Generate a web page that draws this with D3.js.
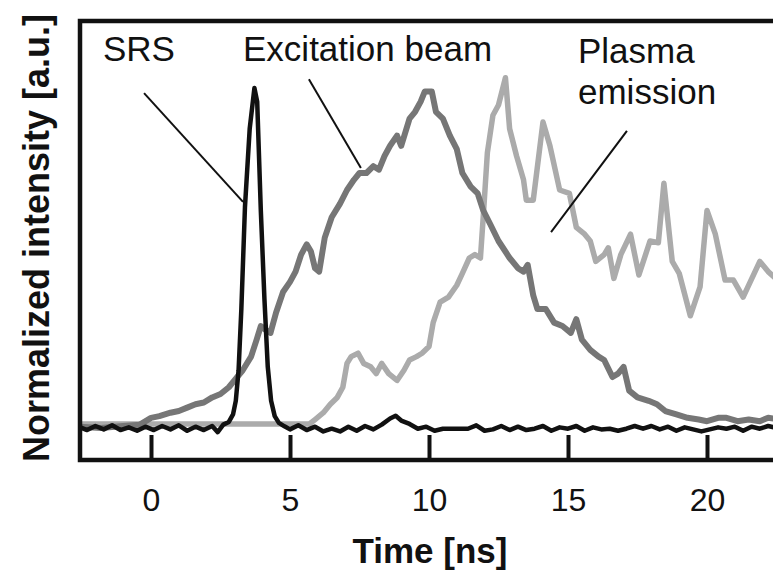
<!DOCTYPE html>
<html>
<head>
<meta charset="utf-8">
<script src="https://cdn.jsdelivr.net/npm/d3@7"></script>
<style>
  body { margin: 0; background: #fff; }
  text { font-family: "Liberation Sans", Arial, sans-serif; fill: #111; }
</style>
</head>
<body>
<div id="chart"></div>
<script>
// time axis ticks
var tickValues = [0, 5, 10, 15, 20];

// SRS pulse (black)
var srsTime = [-2.6, -2.3, -2.0, -1.7, -1.4, -1.1, -0.8, -0.5, -0.2, 0.1, 0.4, 0.7, 1.0, 1.3, 1.6, 1.9, 2.2, 2.4, 2.6, 2.8,
  2.95, 3.05, 3.15, 3.25, 3.38, 3.55, 3.72, 3.82, 3.95, 4.08, 4.2, 4.32, 4.45, 4.6, 4.8, 5.0, 5.3, 5.6, 5.9, 6.2,
  6.5, 6.8, 7.1, 7.4, 7.7, 8.0, 8.3, 8.6, 8.8, 9.0, 9.3, 9.6, 9.9, 10.2, 10.5, 10.8, 11.1, 11.4, 11.7, 12.0,
  12.3, 12.6, 12.9, 13.2, 13.5, 13.8, 14.1, 14.4, 14.7, 15.0, 15.3, 15.6, 15.9, 16.2, 16.5, 16.8, 17.1, 17.4, 17.7, 18.0,
  18.3, 18.6, 18.9, 19.2, 19.5, 19.8, 20.1, 20.4, 20.7, 21.0, 21.3, 21.6, 21.9, 22.2, 22.6];
var srsValue = [0.004, -0.006, 0.006, -0.004, 0.008, -0.006, 0.002, -0.008, 0.004, -0.006, 0.006, -0.004, 0.008, -0.008, 0.004, -0.006, 0.006, -0.012, 0.01, 0.018,
  0.04, 0.08, 0.17, 0.35, 0.65, 0.88, 1.0, 0.96, 0.64, 0.38, 0.18, 0.08, 0.035, 0.015, 0.005, -0.004, 0.008, -0.006, 0.004, -0.01,
  -0.002, -0.01, 0.004, -0.008, 0.006, -0.004, 0.01, 0.028, 0.036, 0.022, 0.012, -0.002, 0.004, -0.008, -0.002, -0.002, -0.002, -0.002, 0.008, -0.008,
  -0.004, 0.006, -0.006, 0.004, -0.006, -0.002, 0.006, -0.008, 0.002, -0.002, 0.006, -0.008, 0.002, -0.004, -0.002, -0.008, -0.002, 0.006, -0.002, 0.006,
  -0.004, 0.004, -0.008, 0.002, -0.004, -0.01, -0.004, 0.002, -0.002, 0.004, -0.008, 0.004, -0.002, 0.006, -0.002];

// excitation beam (dark grey)
var excTime = [-2.6, -1.8, -1.0, -0.4, 0.0, 0.3, 0.7, 1.0, 1.3, 1.6, 1.9, 2.2, 2.5, 2.8, 3.0, 3.3, 3.6, 3.8, 3.95, 4.1,
  4.3, 4.5, 4.75, 5.0, 5.2, 5.4, 5.6, 5.75, 5.9, 6.05, 6.25, 6.5, 6.8, 7.05, 7.3, 7.5, 7.75, 8.0, 8.2, 8.4,
  8.6, 8.85, 9.0, 9.3, 9.5, 9.7, 9.85, 10.1, 10.25, 10.5, 10.75, 11.0, 11.2, 11.5, 11.75, 11.95, 12.2, 12.5, 12.9, 13.2,
  13.4, 13.55, 13.75, 13.9, 14.2, 14.5, 14.8, 15.1, 15.3, 15.5, 15.8, 16.1, 16.3, 16.6, 16.8, 17.0, 17.2, 17.5, 17.9, 18.2,
  18.5, 18.9, 19.3, 19.7, 20.0, 20.4, 20.7, 21.1, 21.5, 21.9, 22.2, 22.6];
var excValue = [0.004, 0.0, 0.006, 0.01, 0.03, 0.035, 0.045, 0.05, 0.06, 0.07, 0.075, 0.09, 0.10, 0.12, 0.14, 0.17, 0.21, 0.26, 0.30, 0.29,
  0.28, 0.34, 0.40, 0.43, 0.46, 0.51, 0.54, 0.52, 0.47, 0.46, 0.56, 0.62, 0.66, 0.70, 0.73, 0.75, 0.75, 0.77, 0.76, 0.80,
  0.83, 0.86, 0.83, 0.91, 0.93, 0.96, 0.99, 0.99, 0.93, 0.91, 0.86, 0.82, 0.75, 0.71, 0.69, 0.64, 0.60, 0.55, 0.50, 0.47,
  0.46, 0.48, 0.39, 0.35, 0.35, 0.31, 0.30, 0.28, 0.32, 0.26, 0.23, 0.21, 0.20, 0.15, 0.16, 0.18, 0.11, 0.09, 0.08, 0.07,
  0.05, 0.04, 0.03, 0.025, 0.02, 0.03, 0.03, 0.02, 0.025, 0.02, 0.03, 0.025];

// plasma emission (light grey)
var plasmaTime = [-2.6, 5.7, 5.9, 6.2, 6.45, 6.7, 6.9, 7.05, 7.2, 7.45, 7.65, 7.9, 8.1, 8.3, 8.55, 8.85, 9.1, 9.3, 9.55, 9.75,
  10.0, 10.15, 10.4, 10.7, 11.0, 11.2, 11.45, 11.65, 11.85, 11.95, 12.1, 12.3, 12.5, 12.75, 12.9, 13.15, 13.4, 13.5, 13.75, 14.1,
  14.35, 14.7, 15.05, 15.3, 15.6, 15.8, 16.0, 16.3, 16.45, 16.65, 16.9, 17.25, 17.55, 17.95, 18.25, 18.45, 18.75, 19.0, 19.4, 19.75,
  20.0, 20.3, 20.65, 20.95, 21.3, 21.9, 22.2, 22.6];
var plasmaValue = [0.012, 0.012, 0.025, 0.045, 0.07, 0.09, 0.12, 0.19, 0.21, 0.22, 0.19, 0.18, 0.16, 0.19, 0.16, 0.14, 0.17, 0.20, 0.21, 0.22,
  0.24, 0.31, 0.37, 0.385, 0.42, 0.455, 0.50, 0.51, 0.50, 0.62, 0.81, 0.92, 0.95, 1.03, 0.88, 0.80, 0.73, 0.67, 0.67, 0.90,
  0.83, 0.70, 0.69, 0.59, 0.57, 0.55, 0.49, 0.51, 0.53, 0.44, 0.51, 0.57, 0.45, 0.55, 0.545, 0.72, 0.49, 0.455, 0.33, 0.415,
  0.64, 0.57, 0.435, 0.435, 0.385, 0.49, 0.46, 0.43];

var width = 773, height = 573;
var plot = { left: 80, top: 21, right: 780, bottom: 460 };

var svg = d3.select("#chart").append("svg")
    .attr("width", width)
    .attr("height", height);

var x = d3.scaleLinear().domain([-2.554, 22.626]).range([plot.left, plot.right]);
var y = d3.scaleLinear().domain([-0.094, 1.197]).range([plot.bottom, plot.top]);

svg.append("clipPath").attr("id", "clip")
  .append("rect")
    .attr("x", plot.left).attr("y", plot.top)
    .attr("width", plot.right - plot.left).attr("height", plot.bottom - plot.top);

function zipSeries(t, v) {
    return t.map(function (d, i) { return [d, v[i]]; });
}

var line = d3.line()
    .x(function (d) { return x(d[0]); })
    .y(function (d) { return y(d[1]); });

var series = [
    { data: zipSeries(plasmaTime, plasmaValue), color: "#ababab", width: 5.5 },
    { data: zipSeries(excTime, excValue), color: "#767676", width: 6 },
    { data: zipSeries(srsTime, srsValue), color: "#111", width: 4.5 }
];

var lines = svg.append("g").attr("clip-path", "url(#clip)");
series.forEach(function (s) {
    lines.append("path")
        .attr("d", line(s.data))
        .attr("fill", "none")
        .attr("stroke", s.color)
        .attr("stroke-width", s.width)
        .attr("stroke-linejoin", "round");
});

// bottom axis with inward ticks
var xAxis = svg.append("g")
    .attr("transform", "translate(0," + plot.bottom + ")")
    .call(d3.axisBottom(x).tickValues(tickValues).tickSizeInner(-25).tickSizeOuter(0).tickPadding(28));
xAxis.select(".domain").remove();
xAxis.selectAll(".tick line").attr("stroke", "#111").attr("stroke-width", 4);
xAxis.selectAll(".tick text")
    .style("font-family", "'Liberation Sans', Arial, sans-serif")
    .style("font-size", "32px")
    .attr("fill", "#111");

// frame (right side runs off the page)
svg.append("rect")
    .attr("x", plot.left).attr("y", plot.top)
    .attr("width", plot.right - plot.left + 20).attr("height", plot.bottom - plot.top)
    .attr("fill", "none")
    .attr("stroke", "#111")
    .attr("stroke-width", 4.5);

// axis titles
svg.append("text")
    .attr("x", 430).attr("y", 563)
    .attr("text-anchor", "middle")
    .style("font-size", "35px").style("font-weight", "bold")
    .text("Time [ns]");

svg.append("text")
    .attr("transform", "translate(49,238) rotate(-90)")
    .attr("text-anchor", "middle")
    .style("font-size", "36px").style("font-weight", "bold")
    .text("Normalized intensity [a.u.]");

// annotations, placed in data units
var notes = [
    { lines: ["SRS"], at: [-1.73, 1.079], from: [-0.25, 0.985], to: [3.31, 0.665] },
    { lines: ["Excitation beam"], at: [3.31, 1.079], from: [5.68, 1.026], to: [7.55, 0.765] },
    { lines: ["Plasma", "emission"], at: [15.36, 1.073], from: [17.12, 0.874], to: [14.39, 0.576] }
];

notes.forEach(function (n) {
    svg.append("line")
        .attr("x1", x(n.from[0])).attr("y1", y(n.from[1]))
        .attr("x2", x(n.to[0])).attr("y2", y(n.to[1]))
        .attr("stroke", "#111").attr("stroke-width", 2);
    var t = svg.append("text")
        .attr("x", x(n.at[0])).attr("y", y(n.at[1]))
        .style("font-size", "35px");
    n.lines.forEach(function (l, i) {
        t.append("tspan")
            .attr("x", x(n.at[0]))
            .attr("dy", i === 0 ? 0 : 41)
            .text(l);
    });
});
</script>
</body>
</html>
